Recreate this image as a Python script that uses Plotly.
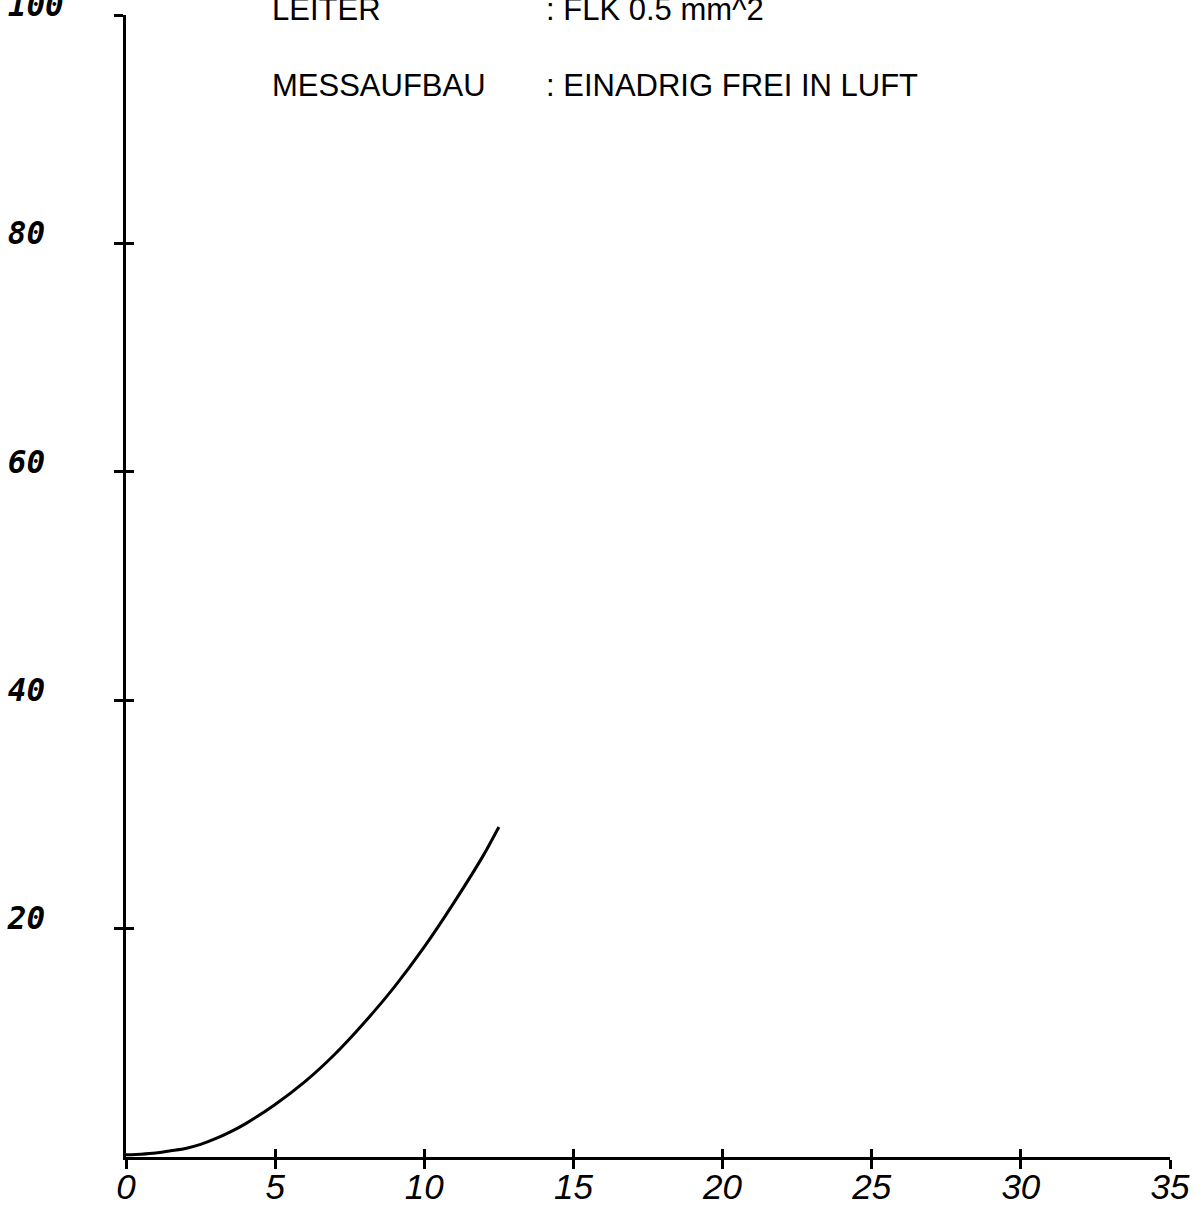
import plotly.graph_objects as go

# Data
x_vals = [0, 0.5, 1, 1.5, 2, 2.5, 3, 3.5, 4, 5, 6, 7, 8, 9, 10, 11, 12, 12.5]
y_vals = [0.2, 0.25, 0.35, 0.55, 0.75, 1.1, 1.6, 2.2, 2.9, 4.6, 6.6, 9.0, 11.8, 14.9, 18.4, 22.3, 26.5, 28.9]

x_ticks = [0, 5, 10, 15, 20, 25, 30, 35]
y_ticks = [20, 40, 60, 80, 100]

header_labels = ["LEITER", "MESSAUFBAU"]
header_values = [": FLK 0.5 mm^2", ": EINADRIG FREI IN LUFT"]

fig = go.Figure()
fig.add_trace(go.Scatter(x=x_vals, y=y_vals, mode="lines",
                         line=dict(color="black", width=3, shape="spline", smoothing=0.6),
                         cliponaxis=False, showlegend=False, hoverinfo="skip"))
# helper trace for inside ticks on overlay axes
fig.add_trace(go.Scatter(x=[None], y=[None], xaxis="x2", yaxis="y2",
                         showlegend=False, hoverinfo="skip"))

tick_font_x = dict(family="Liberation Sans", size=35, color="black", style="italic")
tick_font_y = dict(family="DejaVu Sans Mono", size=31, color="black", style="italic", weight="bold")

# left-align y labels by padding with no-break spaces (monospace font)
y_width = max(len(str(v)) for v in y_ticks)
y_text = [str(v) + "\u00a0" * (y_width - len(str(v))) for v in y_ticks]

fig.update_layout(
    width=1204, height=1205,
    margin=dict(l=126, r=34, t=15, b=48),
    paper_bgcolor="white", plot_bgcolor="white",
    xaxis=dict(range=[0, 35], tickvals=x_ticks, ticktext=[str(v) for v in x_ticks],
               showgrid=False, zeroline=False, showline=True, linecolor="black", linewidth=3,
               ticks="outside", ticklen=9, tickwidth=3, tickcolor="black", automargin=False,
               tickfont=tick_font_x, ticklabelstandoff=-12, ticklabeloverflow="allow"),
    yaxis=dict(range=[0, 100], tickvals=y_ticks, ticktext=y_text,
               showgrid=False, zeroline=False, showline=True, linecolor="black", linewidth=3,
               ticks="outside", ticklen=9, tickwidth=3, tickcolor="black", automargin=False,
               tickfont=tick_font_y, ticklabelstandoff=44, ticklabeloverflow="allow",
               ticklabelshift=-10),
    xaxis2=dict(range=[0, 35], overlaying="x", tickvals=x_ticks, showticklabels=False,
                showgrid=False, zeroline=False, showline=False, automargin=False,
                ticks="inside", ticklen=8, tickwidth=3, tickcolor="black"),
    yaxis2=dict(range=[0, 100], overlaying="y", tickvals=y_ticks, showticklabels=False,
                showgrid=False, zeroline=False, showline=False, automargin=False,
                ticks="inside", ticklen=8, tickwidth=3, tickcolor="black"),
)

ann_font = dict(family="Liberation Sans", size=31, color="black")
label_y = [1.0044, 0.9387]
for lab, val, yy in zip(header_labels, header_values, label_y):
    fig.add_annotation(xref="paper", yref="paper", x=(270 - 126) / 1044, y=yy,
                       text=lab, showarrow=False, xanchor="left", yanchor="middle", font=ann_font)
    fig.add_annotation(xref="paper", yref="paper", x=(544 - 126) / 1044, y=yy,
                       text=val, showarrow=False, xanchor="left", yanchor="middle", font=ann_font)

fig.write_html("out.html")
